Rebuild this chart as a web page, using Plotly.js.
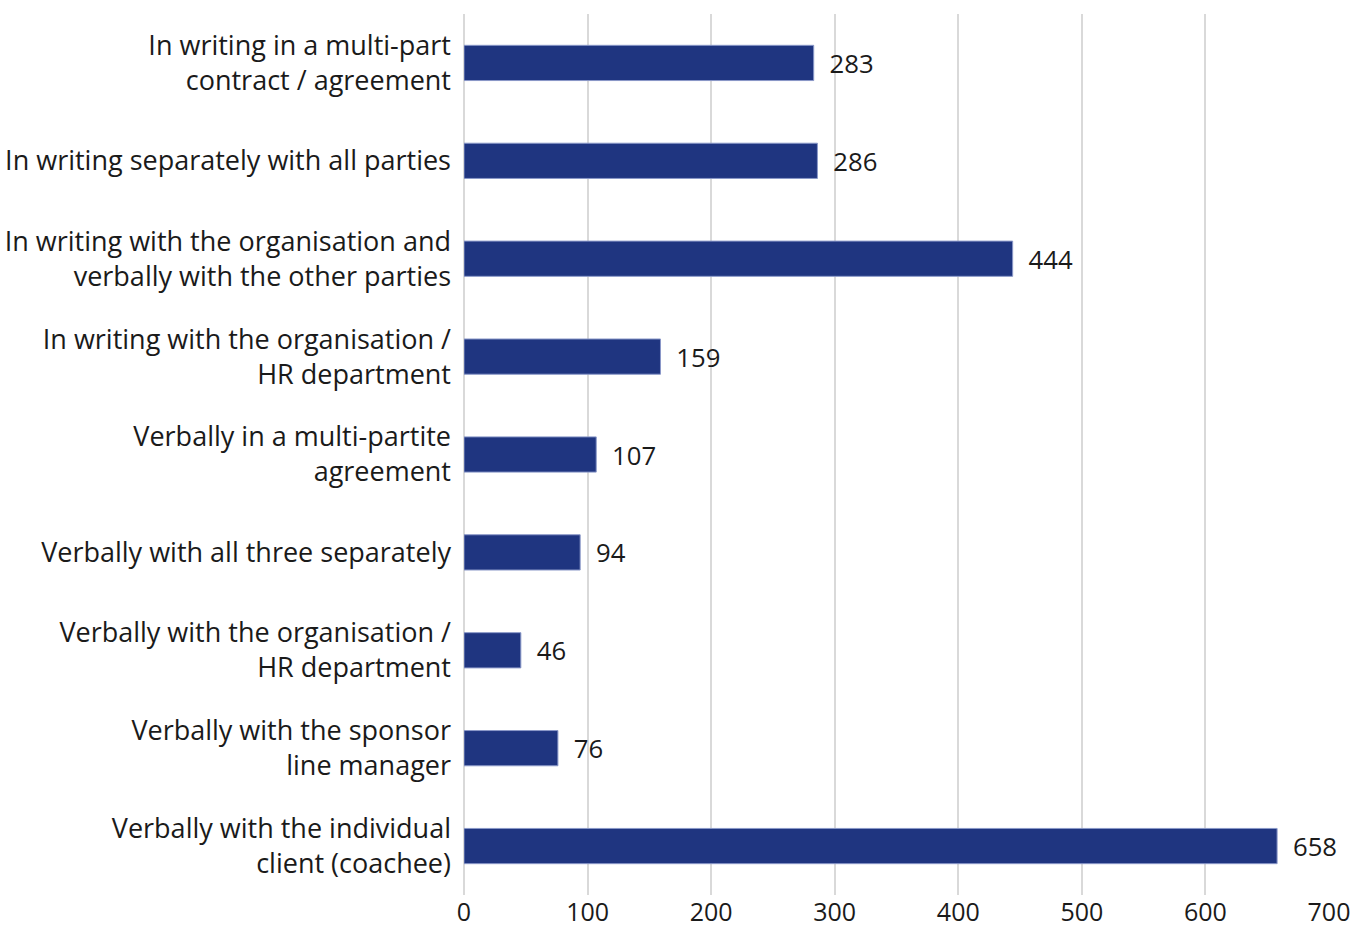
<!DOCTYPE html>
<html>
<head>
<meta charset="utf-8">
<script src="https://cdn.plot.ly/plotly-3.0.1.min.js"></script>
<style>html,body{margin:0;padding:0;background:#fff;}#chart{width:1371px;height:930px;}</style>
</head>
<body>
<div id="chart"></div>
<script>
const categories = [
  "In writing in a multi-part<br>contract / agreement",
  "In writing separately with all parties",
  "In writing with the organisation and<br>verbally with the other parties",
  "In writing with the organisation /<br>HR department",
  "Verbally in a multi-partite<br>agreement",
  "Verbally with all three separately",
  "Verbally with the organisation /<br>HR department",
  "Verbally with the sponsor<br>line manager",
  "Verbally with the individual<br>client (coachee)"
];
const values = [283, 286, 444, 159, 107, 94, 46, 76, 658];
const tickVals = [0, 100, 200, 300, 400, 500, 600, 700];

const font = {family: "'Open Sans', sans-serif", size: 27, color: "#1a1a1a"};
const tickFontX = {family: "'Open Sans', sans-serif", size: 25, color: "#1a1a1a"};

Plotly.newPlot("chart", [{
  type: "bar",
  orientation: "h",
  y: categories,
  x: values,
  text: values.map(v => "\u2002" + v),
  textposition: "outside",
  cliponaxis: false,
  textfont: font,
  marker: {color: "#1f3580", line: {color: "#8a98c8", width: 1}},
  width: 0.36,
  hoverinfo: "x+y"
}], {
  width: 1371, height: 930,
  margin: {l: 464, r: 42, t: 14, b: 35},
  paper_bgcolor: "#fff", plot_bgcolor: "#fff",
  font: font,
  showlegend: false,
  xaxis: {
    range: [0, 700], tickvals: tickVals, ticktext: tickVals.map(String),
    showgrid: true, gridcolor: "#d9d9d9", gridwidth: 1.5,
    zeroline: true, zerolinecolor: "#d9d9d9", zerolinewidth: 1.5,
    showline: false, ticks: "", tickfont: tickFontX, ticklabelstandoff: 0
  },
  yaxis: {
    autorange: "reversed", type: "category",
    showgrid: false, zeroline: false, showline: false, ticks: "",
    ticklen: 0, ticklabelstandoff: 12, tickfont: font
  }
}, {displayModeBar: false});
</script>
</body>
</html>
